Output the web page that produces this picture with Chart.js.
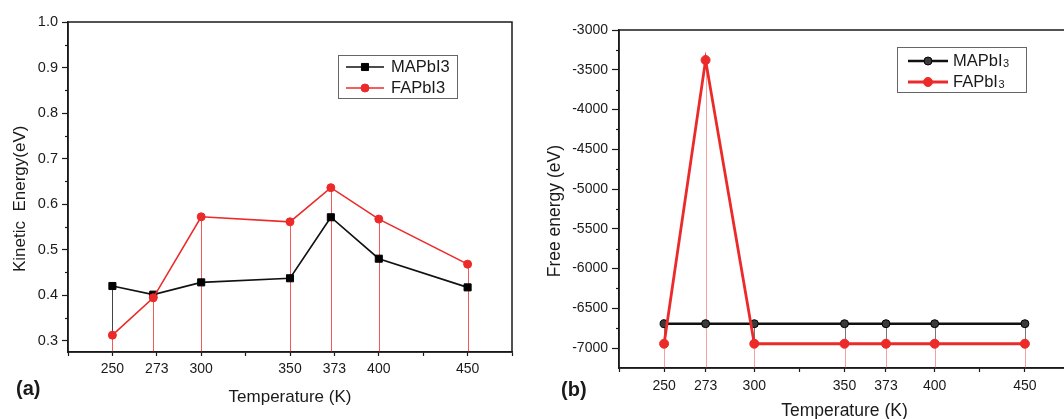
<!DOCTYPE html>
<html>
<head>
<meta charset="utf-8">
<title>Kinetic and free energy vs temperature</title>
<script src="https://cdn.jsdelivr.net/npm/chart.js@4.4.1/dist/chart.umd.min.js"></script>
<style>
  html, body { margin: 0; padding: 0; background: #fff; overflow: hidden; }
  #wrap { position: relative; width: 1064px; height: 419px; overflow: hidden; }
  .panel { position: absolute; top: 0; height: 419px; }
  #panelA { left: 0; width: 530px; }
  #panelB { left: 540px; width: 560px; }
</style>
</head>
<body>
<div id="wrap">
  <div class="panel" id="panelA"><canvas id="chartA"></canvas></div>
  <div class="panel" id="panelB"><canvas id="chartB"></canvas></div>
</div>
<script>
// Temperatures (K) shared by both panels
const temps = [250, 273, 300, 350, 373, 400, 450];

// (a) kinetic energy (eV)
const keMAPbI3 = [0.420, 0.401, 0.428, 0.437, 0.571, 0.480, 0.417];
const keFAPbI3 = [0.312, 0.394, 0.572, 0.561, 0.636, 0.567, 0.468];

// (b) free energy (eV)
const feMAPbI3 = [-6693, -6693, -6693, -6693, -6693, -6693, -6693];
const feFAPbI3 = [-6945, -3378, -6945, -6945, -6945, -6945, -6945];

// Tick positions and labels
const xTicksA = [225, 250, 275, 300, 325, 350, 375, 400, 425, 450, 475];
const xLabelsA = ['', '250', '273', '300', '', '350', '373', '400', '', '450', ''];
const xTicksB = [225, 250, 273, 300, 325, 350, 373, 400, 425, 450, 475];
const xLabelsB = ['', '250', '273', '300', '', '350', '373', '400', '', '450', ''];
const keTicks = [0.3, 0.4, 0.5, 0.6, 0.7, 0.8, 0.9, 1.0];
const keMinor = [0.35, 0.45, 0.55, 0.65, 0.75, 0.85, 0.95];
const feTicks = [-7000, -6500, -6000, -5500, -5000, -4500, -4000, -3500, -3000];
const feMinor = [-6750, -6250, -5750, -5250, -4750, -4250, -3750, -3250];

const FONT = 'Arial, "Liberation Sans", sans-serif';
const RED = '#ec2a2a';
const INK = '#1a1a1a';

// Thin vertical lines from every point down to the x axis
const dropLines = {
  id: 'dropLines',
  beforeDatasetsDraw(chart) {
    const { ctx, chartArea } = chart;
    ctx.save();
    chart.data.datasets.forEach((ds, i) => {
      const meta = chart.getDatasetMeta(i);
      ctx.strokeStyle = ds.dropColor;
      ctx.lineWidth = 1;
      meta.data.forEach((pt) => {
        const x = Math.round(pt.x) + 0.5;
        ctx.beginPath();
        ctx.moveTo(x, pt.y);
        ctx.lineTo(x, chartArea.bottom);
        ctx.stroke();
      });
    });
    ctx.restore();
  }
};

// Closed box around the plot area
const frame = {
  id: 'frame',
  afterDraw(chart) {
    const { ctx, chartArea: a } = chart;
    ctx.save();
    ctx.strokeStyle = INK;
    ctx.lineWidth = 1.5;
    ctx.strokeRect(a.left, a.top, a.right - a.left, a.bottom - a.top);
    ctx.restore();
  }
};

// Short unlabeled ticks on the y axis between the labeled ones
const minorTicks = {
  id: 'minorTicks',
  afterDraw(chart, args, o) {
    const { ctx } = chart;
    const scale = chart.scales.y;
    ctx.save();
    ctx.strokeStyle = INK;
    ctx.lineWidth = 1.2;
    o.values.forEach((v) => {
      const y = Math.round(scale.getPixelForValue(v)) + 0.5;
      ctx.beginPath();
      ctx.moveTo(scale.right, y);
      ctx.lineTo(scale.right - o.length, y);
      ctx.stroke();
    });
    ctx.restore();
  }
};

// Boxed legend inside the plot, plus the panel tag "(a)" / "(b)"
const boxLegend = {
  id: 'boxLegend',
  afterDraw(chart, args, o) {
    const ctx = chart.ctx;
    ctx.save();
    ctx.strokeStyle = '#666';
    ctx.lineWidth = 1;
    ctx.strokeRect(o.x + 0.5, o.y + 0.5, o.w, o.h);

    chart.data.datasets.forEach((ds, i) => {
      const y = o.y + o.firstRow + i * o.rowGap;
      ctx.strokeStyle = ds.borderColor;
      ctx.lineWidth = ds.borderWidth;
      ctx.beginPath();
      ctx.moveTo(o.x + o.lineStart, y);
      ctx.lineTo(o.x + o.lineStart + o.lineLen, y);
      ctx.stroke();

      ctx.fillStyle = ds.pointBackgroundColor;
      ctx.strokeStyle = ds.pointBorderColor;
      ctx.lineWidth = ds.pointBorderWidth;
      Chart.helpers.drawPoint(ctx, {
        pointStyle: ds.pointStyle,
        radius: ds.pointRadius,
        borderWidth: ds.pointBorderWidth
      }, o.x + o.lineStart + o.lineLen / 2, y);

      ctx.fillStyle = INK;
      ctx.textAlign = 'left';
      ctx.textBaseline = 'middle';
      ctx.font = '16.5px ' + FONT;
      const tx = o.x + o.textStart;
      if (o.subscript) {
        const base = ds.label.slice(0, -1);
        ctx.fillText(base, tx, y);
        const w = ctx.measureText(base).width;
        ctx.font = '11px ' + FONT;
        ctx.fillText(ds.label.slice(-1), tx + w + 0.5, y + 3);
      } else {
        ctx.fillText(ds.label, tx, y);
      }
    });

    ctx.fillStyle = INK;
    ctx.font = 'bold 20px ' + FONT;
    ctx.textAlign = 'left';
    ctx.textBaseline = 'middle';
    ctx.fillText(o.tag, o.tagX, o.tagY);
    ctx.restore();
  }
};

// Common axis look: no grid, outward ticks, dark axis line
function axisStyle(tickLength, extra) {
  return Object.assign({
    type: 'linear',
    grid: { display: true, drawOnChartArea: false, drawTicks: true, tickLength: tickLength, tickColor: INK, tickWidth: 1.2 },
    border: { display: true, color: INK, width: 1.5 }
  }, extra);
}

function makeDataset(label, xs, ys, style) {
  return Object.assign({
    label: label,
    data: xs.map((x, i) => ({ x: x, y: ys[i] })),
    showLine: true,
    tension: 0,
    pointBorderWidth: 1
  }, style);
}

// ---- Panel (a): kinetic energy ----
new Chart(document.getElementById('chartA'), {
  type: 'scatter',
  data: {
    datasets: [
      makeDataset('MAPbI3', temps, keMAPbI3, {
        borderColor: '#111', borderWidth: 1.6,
        pointStyle: 'rect', pointRadius: 5,
        pointBackgroundColor: '#000', pointBorderColor: '#000',
        dropColor: '#444', order: 1
      }),
      makeDataset('FAPbI3', temps, keFAPbI3, {
        borderColor: RED, borderWidth: 1.6,
        pointStyle: 'circle', pointRadius: 4,
        pointBackgroundColor: RED, pointBorderColor: RED,
        dropColor: '#f05a5a', order: 0
      })
    ]
  },
  options: {
    responsive: true,
    maintainAspectRatio: false,
    animation: false,
    events: [],
    layout: { padding: { top: 22, right: 18, left: 0, bottom: 0 } },
    plugins: {
      legend: { display: false },
      tooltip: { enabled: false },
      minorTicks: { values: keMinor, length: 3 },
      boxLegend: {
        x: 338, y: 55, w: 119, h: 43, firstRow: 12, rowGap: 21,
        lineStart: 8, lineLen: 38, textStart: 53,
        tag: '(a)', tagX: 16, tagY: 389
      }
    },
    scales: {
      x: axisStyle(4, {
        min: 225, max: 475,
        afterFit: (s) => { s.height = 67; },
        afterBuildTicks: (s) => { s.ticks = xTicksA.map((v) => ({ value: v })); },
        ticks: {
          autoSkip: false, maxRotation: 0, padding: 5,
          color: INK, font: { family: FONT, size: 14 },
          callback: (v, i) => xLabelsA[i]
        },
        title: {
          display: true, text: 'Temperature (K)', color: INK,
          font: { family: FONT, size: 17 }, padding: { top: 0, bottom: 11 }
        }
      }),
      y: axisStyle(6, {
        min: 0.275, max: 1.0,
        afterFit: (s) => { s.width = 68; },
        afterBuildTicks: (s) => { s.ticks = keTicks.map((v) => ({ value: v })); },
        ticks: {
          autoSkip: false, padding: 4,
          color: INK, font: { family: FONT, size: 14.5 },
          callback: (v) => v.toFixed(1)
        },
        title: {
          // trailing spaces nudge the title down like the original
          display: true, text: 'Kinetic  Energy(eV)     ', color: INK,
          font: { family: FONT, size: 17 }, padding: { top: 10, bottom: 0 }
        }
      })
    }
  },
  plugins: [dropLines, frame, minorTicks, boxLegend]
});

// ---- Panel (b): free energy ----
new Chart(document.getElementById('chartB'), {
  type: 'scatter',
  data: {
    datasets: [
      makeDataset('MAPbI3', temps, feMAPbI3, {
        borderColor: '#111', borderWidth: 2.6,
        pointStyle: 'circle', pointRadius: 4,
        pointBackgroundColor: '#3a3a3a', pointBorderColor: '#000',
        dropColor: '#777', order: 1
      }),
      makeDataset('FAPbI3', temps, feFAPbI3, {
        borderColor: RED, borderWidth: 2.8,
        pointStyle: 'circle', pointRadius: 4.5,
        pointBackgroundColor: RED, pointBorderColor: RED,
        dropColor: '#f4a3a3', order: 0
      })
    ]
  },
  options: {
    responsive: true,
    maintainAspectRatio: false,
    animation: false,
    events: [],
    layout: { padding: { top: 30, right: 30, left: 0, bottom: 0 } },
    plugins: {
      legend: { display: false },
      tooltip: { enabled: false },
      minorTicks: { values: feMinor, length: 3 },
      boxLegend: {
        x: 357, y: 47, w: 129, h: 45, firstRow: 14, rowGap: 21,
        lineStart: 11, lineLen: 40, textStart: 56, subscript: true,
        tag: '(b)', tagX: 21, tagY: 390
      }
    },
    scales: {
      x: axisStyle(4, {
        min: 225, max: 475,
        afterFit: (s) => { s.height = 51; },
        afterBuildTicks: (s) => { s.ticks = xTicksB.map((v) => ({ value: v })); },
        ticks: {
          autoSkip: false, maxRotation: 0, padding: 6,
          color: INK, font: { family: FONT, size: 14 },
          callback: (v, i) => xLabelsB[i]
        },
        title: {
          display: true, text: 'Temperature (K)', color: INK,
          font: { family: FONT, size: 17.5 }, padding: { top: 0, bottom: -3 }
        }
      }),
      y: axisStyle(7, {
        min: -7250, max: -3000,
        afterFit: (s) => { s.width = 79; },
        afterBuildTicks: (s) => { s.ticks = feTicks.map((v) => ({ value: v })); },
        ticks: {
          autoSkip: false, padding: 4,
          color: INK, font: { family: FONT, size: 14 },
          callback: (v) => String(v)
        },
        title: {
          display: true, text: 'Free energy (eV)     ', color: INK,
          font: { family: FONT, size: 17.5 }, padding: { top: 5, bottom: 0 }
        }
      })
    }
  },
  plugins: [dropLines, frame, minorTicks, boxLegend]
});
</script>
</body>
</html>
